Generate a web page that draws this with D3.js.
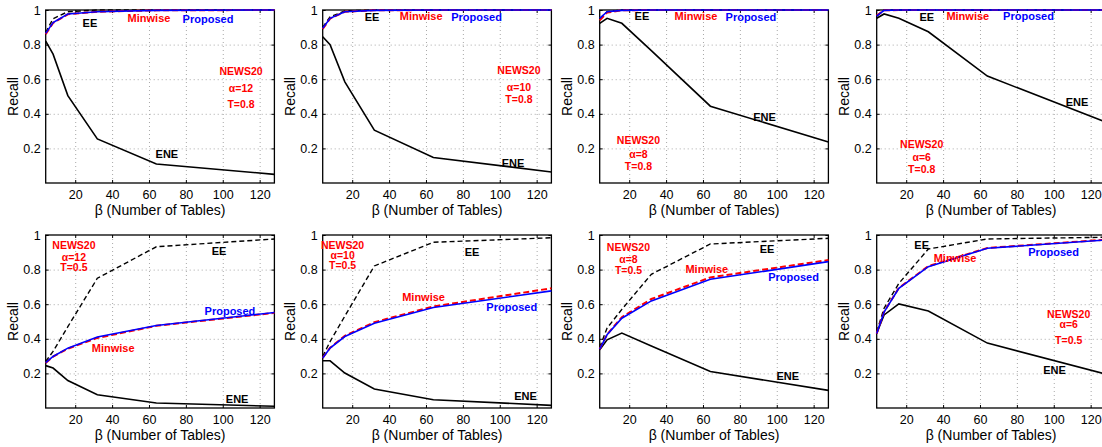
<!DOCTYPE html>
<html>
<head>
<meta charset="utf-8">
<script src="https://cdn.jsdelivr.net/npm/d3@7"></script>
<style>
  body { margin: 0; background: #fff; }
  svg { display: block; font-family: "Liberation Sans", Arial, sans-serif; }
  .grid line { stroke: #a8a8a8; stroke-dasharray: 1,3; }
  .grid path { display: none; }
  .axis path { display: none; }
  .axis line { stroke: #000; }
  .axis text { font-size: 12.5px; fill: #000; font-family: "Liberation Sans", Arial, sans-serif; }
  .note { font-weight: bold; font-size: 11px; }
  .info { font-weight: bold; font-size: 10.5px; fill: #ff0000; text-anchor: middle; }
</style>
</head>
<body>
<svg width="1102" height="447"></svg>
<script>
// number of tables used in every run
const betas = [4, 8, 16, 32, 64, 128];
const xTicks = [20, 40, 60, 80, 100, 120];
const yTicks = [0.2, 0.4, 0.6, 0.8, 1];

// panel settings (top row T=0.8, bottom row T=0.5)
const panelAlpha = [12, 10, 8, 6, 12, 10, 8, 6];
const panelT = [0.8, 0.8, 0.8, 0.8, 0.5, 0.5, 0.5, 0.5];

// recall per panel, one value per beta
const eneRecall = [
  [0.82, 0.745, 0.505, 0.255, 0.11, 0.05],
  [0.845, 0.80, 0.585, 0.305, 0.147, 0.064],
  [0.923, 0.952, 0.923, 0.765, 0.444, 0.237],
  [0.952, 0.977, 0.952, 0.874, 0.618, 0.353],
  [0.245, 0.231, 0.159, 0.077, 0.029, 0.01],
  [0.273, 0.273, 0.202, 0.11, 0.048, 0.015],
  [0.336, 0.394, 0.433, 0.359, 0.211, 0.102],
  [0.433, 0.538, 0.602, 0.561, 0.375, 0.196]
];
const eeRecall = [
  [0.87, 0.95, 0.99, 1, 1, 1],
  [0.90, 0.96, 0.995, 1, 1, 1],
  [0.95, 0.99, 1, 1, 1, 1],
  [0.965, 1, 1, 1, 1, 1],
  [0.269, 0.327, 0.47, 0.75, 0.932, 0.977],
  [0.298, 0.384, 0.531, 0.821, 0.958, 0.984],
  [0.35, 0.462, 0.57, 0.773, 0.948, 0.981],
  [0.44, 0.577, 0.72, 0.919, 0.977, 0.987]
];
const minwiseRecall = [
  [0.86, 0.925, 0.975, 0.99, 0.998, 1],
  [0.89, 0.95, 0.99, 0.998, 1, 1],
  [0.94, 0.985, 0.998, 1, 1, 1],
  [0.968, 0.998, 1, 1, 1, 1],
  [0.26, 0.297, 0.343, 0.405, 0.475, 0.55],
  [0.29, 0.348, 0.417, 0.496, 0.587, 0.692],
  [0.34, 0.425, 0.525, 0.63, 0.755, 0.855],
  [0.43, 0.556, 0.694, 0.82, 0.925, 0.973]
];
const proposedRecall = [
  [0.865, 0.927, 0.977, 0.99, 0.998, 1],
  [0.894, 0.952, 0.99, 0.998, 1, 1],
  [0.952, 0.99, 0.998, 1, 1, 1],
  [0.965, 0.998, 1, 1, 1, 1],
  [0.262, 0.298, 0.346, 0.41, 0.477, 0.552],
  [0.289, 0.346, 0.413, 0.49, 0.581, 0.677],
  [0.34, 0.423, 0.519, 0.619, 0.744, 0.846],
  [0.43, 0.554, 0.692, 0.817, 0.923, 0.971]
];

// where the curve names sit, in data units [beta, recall]
const eeLabelAt = [[28, 0.926], [30.8, 0.961], [26.9, 0.965], [31.2, 0.961], [98, 0.908], [85, 0.90], [94.7, 0.919], [28.4, 0.942]];
const eneLabelAt = [[69.7, 0.166], [107.2, 0.116], [93.4, 0.382], [112.6, 0.469], [107.8, 0.054], [114, 0.067], [106, 0.182], [100.4, 0.217]];
const minwiseLabelAt = [[60, 0.954], [57.4, 0.965], [56.2, 0.965], [53.4, 0.965], [40.6, 0.346], [58.7, 0.638], [62.1, 0.802], [46.5, 0.869]];
const proposedLabelAt = [[92, 0.948], [87.4, 0.961], [86, 0.961], [86.3, 0.965], [103.9, 0.561], [106.5, 0.584], [109.1, 0.759], [99.9, 0.90]];
// dataset block: [beta, recall of line 1, line 2, line 3]
const infoLabelAt = [
  [109.9, 0.647, 0.548, 0.456], [110.4, 0.649, 0.552, 0.485],
  [25, 0.247, 0.166, 0.098], [28.4, 0.224, 0.151, 0.078],
  [19.3, 0.938, 0.871, 0.811], [14.8, 0.943, 0.885, 0.827],
  [19.6, 0.927, 0.861, 0.798], [108.1, 0.542, 0.485, 0.394]
];

var svg = d3.select("svg");

var pw = 228.7, ph = 173;

var x = d3.scaleLinear().domain([4, 128]).range([0, pw]);
var y = d3.scaleLinear().domain([0, 1]).range([ph, 0]);

var line = d3.line()
  .x(function(d, i) { return x(betas[i]); })
  .y(function(d) { return y(d); });

panelAlpha.forEach(function(alpha, p) {
  var col = p % 4, row = Math.floor(p / 4);
  var g = svg.append("g")
    .attr("transform", "translate(" + (45.7 + col * 277) + "," + (10 + row * 225) + ")");

  // dotted grid
  g.append("g").attr("class", "grid")
    .attr("transform", "translate(0," + ph + ")")
    .call(d3.axisBottom(x).tickValues(xTicks).tickSize(-ph).tickFormat(""));
  g.append("g").attr("class", "grid")
    .call(d3.axisLeft(y).tickValues(yTicks.slice(0, 4)).tickSize(-pw).tickFormat(""));

  // axes with inward ticks
  g.append("g").attr("class", "axis")
    .attr("transform", "translate(0," + ph + ")")
    .call(d3.axisBottom(x).tickValues(xTicks).tickSizeInner(-3).tickSizeOuter(0).tickPadding(7));
  g.append("g").attr("class", "axis")
    .call(d3.axisTop(x).tickValues(xTicks).tickSizeInner(-3).tickSizeOuter(0).tickFormat(""));
  g.append("g").attr("class", "axis")
    .call(d3.axisLeft(y).tickValues(yTicks).tickSizeInner(-3).tickSizeOuter(0).tickPadding(5).tickFormat(d3.format("")));
  g.append("g").attr("class", "axis")
    .attr("transform", "translate(" + pw + ",0)")
    .call(d3.axisRight(y).tickValues(yTicks).tickSizeInner(-3).tickSizeOuter(0).tickFormat(""));

  g.append("rect")
    .attr("width", pw).attr("height", ph)
    .attr("fill", "none").attr("stroke", "#000").attr("stroke-width", 1.3);

  // curves
  g.append("path").datum(eneRecall[p])
    .attr("d", line).attr("fill", "none")
    .attr("stroke", "#000").attr("stroke-width", 1.6);
  g.append("path").datum(eeRecall[p])
    .attr("d", line).attr("fill", "none")
    .attr("stroke", "#000").attr("stroke-width", 1.4).attr("stroke-dasharray", "5,3");
  g.append("path").datum(minwiseRecall[p])
    .attr("d", line).attr("fill", "none")
    .attr("stroke", "#ff0000").attr("stroke-width", 2).attr("stroke-dasharray", "6,3");
  g.append("path").datum(proposedRecall[p])
    .attr("d", line).attr("fill", "none")
    .attr("stroke", "#0000ff").attr("stroke-width", 1.6);

  // curve names
  var notes = [
    ["EE", eeLabelAt[p], "#000"],
    ["ENE", eneLabelAt[p], "#000"],
    ["Minwise", minwiseLabelAt[p], "#ff0000"],
    ["Proposed", proposedLabelAt[p], "#0000ff"]
  ];
  notes.forEach(function(n) {
    g.append("text").attr("class", "note")
      .attr("x", x(n[1][0])).attr("y", y(n[1][1]))
      .attr("dy", "0.35em").attr("text-anchor", "middle")
      .attr("fill", n[2]).text(n[0]);
  });

  // dataset block
  var ia = infoLabelAt[p];
  ["NEWS20", "\u03b1=" + alpha, "T=" + panelT[p]].forEach(function(t, k) {
    g.append("text").attr("class", "info")
      .attr("x", x(ia[0])).attr("y", y(ia[k + 1]))
      .attr("dy", "0.35em").text(t);
  });

  // axis titles
  g.append("text")
    .attr("x", pw / 2).attr("y", ph + 31.5)
    .attr("text-anchor", "middle").attr("font-size", "14px")
    .text("\u03b2 (Number of Tables)");
  g.append("text")
    .attr("transform", "translate(-27.5," + (ph / 2) + ") rotate(-90)")
    .attr("text-anchor", "middle").attr("font-size", "14px")
    .text("Recall");
});
</script>
</body>
</html>
